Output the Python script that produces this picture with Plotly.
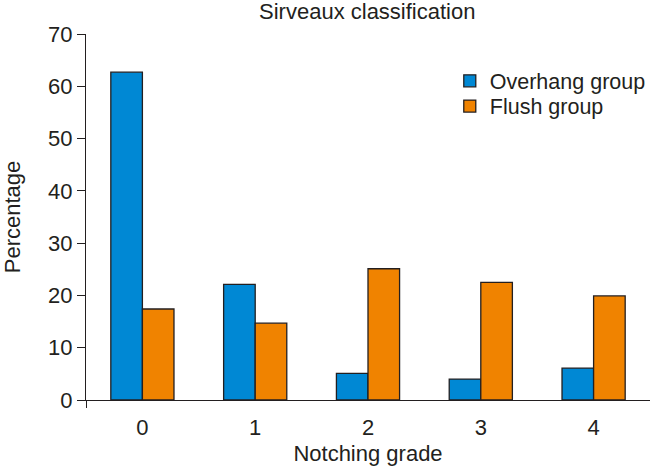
import plotly.graph_objects as go

categories = [0, 1, 2, 3, 4]
tick_labels = ["0", "1", "2", "3", "4"]
overhang = [62.7, 22.1, 5.1, 4.0, 6.1]
flush = [17.4, 14.7, 25.1, 22.5, 19.9]

FONT = "Liberation Sans, Arial, sans-serif"
DARK = "#231f20"
FS = 22

fig = go.Figure()
fig.add_trace(go.Bar(x=categories, y=overhang, name="Overhang group", legend="legend",
                     marker=dict(color="#0088d4", line=dict(color=DARK, width=1.3))))
fig.add_trace(go.Bar(x=categories, y=flush, name="Flush group", legend="legend2",
                     marker=dict(color="#f08300", line=dict(color=DARK, width=1.3))))
# invisible trace to carry the secondary x axis (end ticks)
fig.add_trace(go.Scatter(x=[-0.5, 4.5], y=[0, 0], xaxis="x2", mode="lines",
                         line=dict(width=0), showlegend=False, hoverinfo="skip"))

leg_common = dict(xanchor="left", yanchor="middle", bgcolor="rgba(0,0,0,0)",
                  font=dict(size=21.5, color=DARK))

fig.update_layout(
    width=650, height=466,
    margin=dict(l=86, r=0, t=34, b=66, autoexpand=False),
    paper_bgcolor="white", plot_bgcolor="white",
    barmode="group", bargap=0.44, bargroupgap=0,
    font=dict(family=FONT, size=FS, color=DARK),
    title=dict(text="Sirveaux classification", x=0.565, xanchor="center",
               yref="container", y=0.976, yanchor="middle",
               font=dict(size=FS, color=DARK)),
    showlegend=True,
    legend=dict(x=0.645, y=0.872, **leg_common),
    legend2=dict(x=0.645, y=0.803, **leg_common),
    xaxis=dict(range=[-0.5, 4.5], tickvals=categories, ticktext=tick_labels,
               ticks="outside", ticklen=7, tickcolor="rgba(0,0,0,0)",
               showline=True, linecolor=DARK, linewidth=1.3,
               showgrid=False, zeroline=False, automargin=False,
               tickfont=dict(size=FS),
               title=dict(text="Notching grade", font=dict(size=FS), standoff=8)),
    xaxis2=dict(range=[-0.5, 4.5], overlaying="x", side="bottom",
                tickvals=[-0.5, 4.5], ticktext=["", ""], ticks="outside",
                ticklen=7, tickcolor=DARK, tickwidth=1.3, showgrid=False,
                zeroline=False, showline=False, automargin=False),
    yaxis=dict(range=[0, 70], dtick=10, ticks="outside", ticklen=8,
               tickcolor=DARK, tickwidth=1.3, showline=True, linecolor=DARK,
               linewidth=1.3, showgrid=False, zeroline=False, automargin=False,
               tickfont=dict(size=FS),
               title=dict(text="Percentage", font=dict(size=FS), standoff=26)),
)

fig.write_html("out.html", config={"displayModeBar": False},
               post_script="document.body.style.margin='0';")
